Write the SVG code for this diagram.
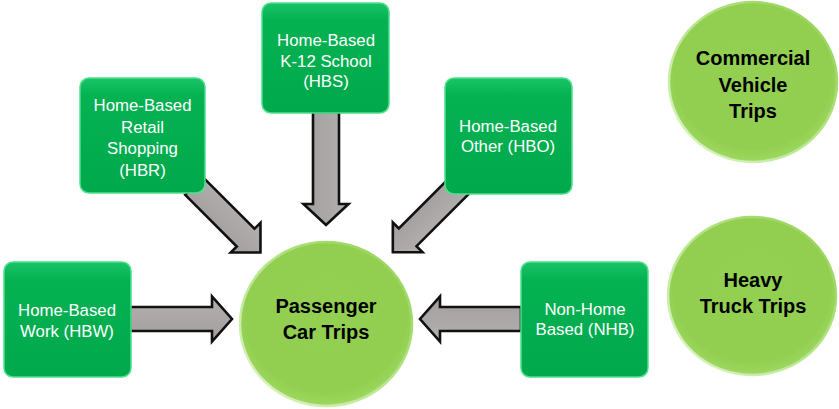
<svg xmlns="http://www.w3.org/2000/svg" width="839" height="409" viewBox="0 0 839 409">
  <defs>
    <linearGradient id="boxFill" x1="0" y1="0" x2="0" y2="1">
      <stop offset="0" stop-color="#19c466"/>
      <stop offset="0.15" stop-color="#05b252"/>
      <stop offset="1" stop-color="#00a94c"/>
    </linearGradient>
    <radialGradient id="circFill" cx="0.5" cy="0.45" r="0.55">
      <stop offset="0" stop-color="#93d052"/>
      <stop offset="0.85" stop-color="#92cf50"/>
      <stop offset="1" stop-color="#9fd862"/>
    </radialGradient>
    <linearGradient id="rim" x1="1" y1="0" x2="0" y2="1">
      <stop offset="0" stop-color="#92d050"/>
      <stop offset="0.5" stop-color="#b6e68a"/>
      <stop offset="1" stop-color="#e2f6cf"/>
    </linearGradient>
    <linearGradient id="arrowFill" x1="0" y1="0" x2="0" y2="1">
      <stop offset="0" stop-color="#b4b0b0"/>
      <stop offset="1" stop-color="#a29e9e"/>
    </linearGradient>
  </defs>
  <style>
    .box { fill: url(#boxFill); stroke: #4fe08e; stroke-width: 1.5; }
    .circ { fill: url(#circFill); stroke: url(#rim); stroke-width: 2.5; }
    .arrow { fill: url(#arrowFill); stroke: #111111; stroke-width: 2.6; stroke-linejoin: miter; }
    .bt { font-family: "Liberation Sans", Arial, sans-serif; font-size: 16.8px; fill: #ffffff; text-anchor: middle; }
    .ct { font-family: "Liberation Sans", Arial, sans-serif; font-size: 20px; font-weight: bold; fill: #000000; text-anchor: middle; }
  </style>

  <g id="connectors">
    <!-- HBW -> Passenger -->
    <path class="arrow" transform="translate(130,319)" d="M0,-12 L82,-12 L82,-22.5 L102,0 L82,22.5 L82,12 L0,12 Z"/>
    <!-- NHB -> Passenger -->
    <path class="arrow" transform="translate(521,319) rotate(180)" d="M0,-12 L81,-12 L81,-22.5 L101,0 L81,22.5 L81,12 L0,12 Z"/>
    <!-- HBS -> Passenger -->
    <path class="arrow" transform="translate(326,112) rotate(90)" d="M0,-13 L92,-13 L92,-22.5 L113,0 L92,22.5 L92,13 L0,13 Z"/>
    <!-- HBR -> Passenger -->
    <path class="arrow" transform="translate(194,186) rotate(45)" d="M0,-12.5 L73,-12.5 L73,-21 L94,0 L73,21 L73,12.5 L0,12.5 Z"/>
    <!-- HBO -> Passenger -->
    <path class="arrow" transform="translate(460,185) rotate(135)" d="M0,-12.5 L74,-12.5 L74,-21 L95,0 L74,21 L74,12.5 L0,12.5 Z"/>
  </g>

  <g id="node-hbw">
    <rect class="box" x="4" y="262" width="127" height="115" rx="9"/>
    <text class="bt" x="67" y="316">Home-Based</text>
    <text class="bt" x="67" y="337">Work (HBW)</text>
  </g>

  <g id="node-hbr">
    <rect class="box" x="80" y="78" width="125" height="115" rx="9"/>
    <text class="bt" x="142.5" y="111">Home-Based</text>
    <text class="bt" x="142.5" y="133">Retail</text>
    <text class="bt" x="142.5" y="154">Shopping</text>
    <text class="bt" x="142.5" y="176">(HBR)</text>
  </g>

  <g id="node-hbs">
    <rect class="box" x="262" y="3" width="127" height="110" rx="9"/>
    <text class="bt" x="326" y="46">Home-Based</text>
    <text class="bt" x="326" y="66.5">K-12 School</text>
    <text class="bt" x="326" y="87">(HBS)</text>
  </g>

  <g id="node-hbo">
    <rect class="box" x="445" y="78" width="127" height="116" rx="9"/>
    <text class="bt" x="508" y="132">Home-Based</text>
    <text class="bt" x="508" y="152">Other (HBO)</text>
  </g>

  <g id="node-nhb">
    <rect class="box" x="521" y="262" width="127" height="115" rx="9"/>
    <text class="bt" x="585" y="315">Non-Home</text>
    <text class="bt" x="585" y="335">Based (NHB)</text>
  </g>

  <g id="node-passenger">
    <ellipse class="circ" cx="326" cy="324" rx="86" ry="82"/>
    <text class="ct" x="326" y="313">Passenger</text>
    <text class="ct" x="326" y="339">Car Trips</text>
  </g>

  <g id="node-commercial">
    <ellipse class="circ" cx="753" cy="82" rx="84" ry="80"/>
    <text class="ct" x="753" y="65">Commercial</text>
    <text class="ct" x="753" y="92">Vehicle</text>
    <text class="ct" x="753" y="118">Trips</text>
  </g>

  <g id="node-heavy">
    <ellipse class="circ" cx="752" cy="296" rx="84" ry="79"/>
    <text class="ct" x="753" y="287">Heavy</text>
    <text class="ct" x="753" y="313">Truck Trips</text>
  </g>
</svg>
